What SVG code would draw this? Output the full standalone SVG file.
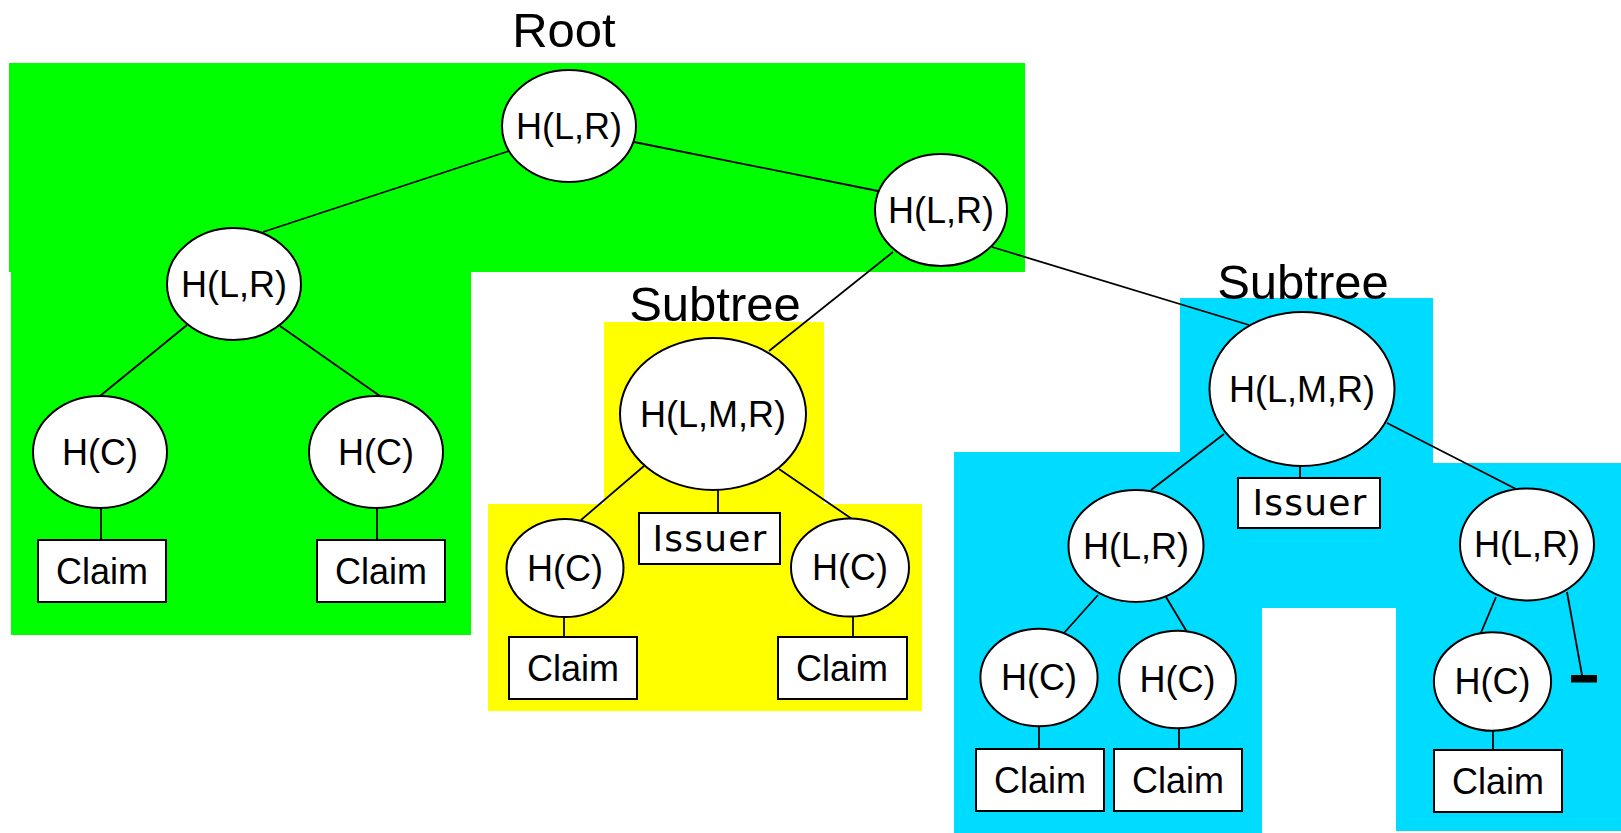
<svg xmlns="http://www.w3.org/2000/svg" width="1621" height="833" viewBox="0 0 1621 833">
<style>
.node{fill:#fff;stroke:#000;stroke-width:2}
.box{fill:#fff;stroke:#000;stroke-width:2}
.t{font-family:"Liberation Sans",Arial,sans-serif;font-size:36px;text-anchor:middle;fill:#000}
.iss{font-family:"DejaVu Sans",Verdana,sans-serif;font-size:36px;letter-spacing:1.2px;text-anchor:middle;fill:#000}
.title{font-family:"Liberation Sans",Arial,sans-serif;font-size:49px;text-anchor:middle;fill:#000}
.edge{stroke:#000;stroke-width:1.8;fill:none}
</style>
<rect width="1621" height="833" fill="#fff"/>
<g id="regions">
<rect x="9" y="63" width="1016" height="209" fill="#00ff00"/>
<rect x="11" y="271" width="460" height="364" fill="#00ff00"/>
<rect x="604" y="322" width="220" height="183" fill="#ffff00"/>
<rect x="488" y="504" width="434" height="207" fill="#ffff00"/>
<path d="M1180,298 H1433 V463 H1621 V831 H1396 V608 H1262 V833 H954 V452 H1180 Z" fill="#00dcff"/>
</g>
<g id="labels">
<text class="title" x="564" y="47" font-size="51">Root</text>
<text class="title" x="715" y="321">Subtree</text>
<text class="title" x="1303" y="299">Subtree</text>
</g>
<g id="connectors">
<line class="edge" x1="509" y1="151" x2="263" y2="232"/>
<line class="edge" x1="634" y1="142" x2="878" y2="191"/>
<line class="edge" x1="187" y1="325" x2="100" y2="396"/>
<line class="edge" x1="280" y1="326" x2="380" y2="396"/>
<line class="edge" x1="101" y1="507" x2="101" y2="540"/>
<line class="edge" x1="377" y1="507" x2="377" y2="540"/>
<line class="edge" x1="893" y1="252" x2="769" y2="351"/>
<line class="edge" x1="644" y1="466" x2="581" y2="520"/>
<line class="edge" x1="718" y1="490" x2="718" y2="513"/>
<line class="edge" x1="779" y1="469" x2="852" y2="519"/>
<line class="edge" x1="564" y1="617" x2="564" y2="637"/>
<line class="edge" x1="853" y1="616" x2="853" y2="637"/>
<line class="edge" x1="992" y1="247" x2="1249" y2="325"/>
<line class="edge" x1="1224" y1="434" x2="1151" y2="490"/>
<line class="edge" x1="1300" y1="465" x2="1300" y2="478"/>
<line class="edge" x1="1387" y1="423" x2="1516" y2="489"/>
<line class="edge" x1="1098" y1="595" x2="1064" y2="633"/>
<line class="edge" x1="1166" y1="597" x2="1187" y2="632"/>
<line class="edge" x1="1039" y1="726" x2="1039" y2="749"/>
<line class="edge" x1="1179" y1="728" x2="1179" y2="749"/>
<line class="edge" x1="1496" y1="597" x2="1480" y2="635"/>
<line class="edge" x1="1493" y1="730" x2="1493" y2="750"/>
<line class="edge" x1="1567" y1="592" x2="1582" y2="675"/>
<rect x="1571" y="675" width="26" height="7.5" fill="#000"/>
</g>
<g id="root"><ellipse class="node" cx="569" cy="126" rx="67" ry="56"/><text class="t" x="569" y="139">H(L,R)</text></g>
<g id="n-left"><ellipse class="node" cx="234" cy="284" rx="67" ry="56"/><text class="t" x="234" y="297">H(L,R)</text></g>
<g id="n-right"><ellipse class="node" cx="941" cy="210" rx="66" ry="56"/><text class="t" x="941" y="223">H(L,R)</text></g>
<g id="hc1"><ellipse class="node" cx="100" cy="452" rx="67" ry="56"/><text class="t" x="100" y="465">H(C)</text></g>
<g id="hc2"><ellipse class="node" cx="376" cy="452" rx="67" ry="56"/><text class="t" x="376" y="465">H(C)</text></g>
<g id="claim1"><rect class="box" x="38" y="540" width="128" height="62"/><text class="t" x="102" y="584">Claim</text></g>
<g id="claim2"><rect class="box" x="317" y="540" width="128" height="62"/><text class="t" x="381" y="584">Claim</text></g>
<g id="y-lmr"><ellipse class="node" cx="713" cy="414" rx="93" ry="76"/><text class="t" x="713" y="427">H(L,M,R)</text></g>
<g id="y-hc1"><ellipse class="node" cx="565" cy="568" rx="58.5" ry="49"/><text class="t" x="565" y="581">H(C)</text></g>
<g id="y-issuer"><rect class="box" x="639" y="513" width="141" height="51"/><text class="iss" x="710" y="551">Issuer</text></g>
<g id="y-hc2"><ellipse class="node" cx="850" cy="567.5" rx="59" ry="49"/><text class="t" x="850" y="580">H(C)</text></g>
<g id="y-claim1"><rect class="box" x="509" y="637" width="128" height="62"/><text class="t" x="573" y="681">Claim</text></g>
<g id="y-claim2"><rect class="box" x="778" y="637" width="129" height="62"/><text class="t" x="842" y="681">Claim</text></g>
<g id="c-lmr"><ellipse class="node" cx="1302" cy="389" rx="92.5" ry="77"/><text class="t" x="1302" y="402">H(L,M,R)</text></g>
<g id="c-lr1"><ellipse class="node" cx="1136" cy="546" rx="67.5" ry="56"/><text class="t" x="1136" y="559">H(L,R)</text></g>
<g id="c-issuer"><rect class="box" x="1238" y="478" width="142" height="50"/><text class="iss" x="1310" y="515">Issuer</text></g>
<g id="c-lr2"><ellipse class="node" cx="1527" cy="544.5" rx="67" ry="56"/><text class="t" x="1527" y="557">H(L,R)</text></g>
<g id="c-hc1"><ellipse class="node" cx="1039" cy="677.5" rx="58.6" ry="48.7"/><text class="t" x="1039" y="690">H(C)</text></g>
<g id="c-hc2"><ellipse class="node" cx="1177.5" cy="679.5" rx="58.4" ry="48.8"/><text class="t" x="1177.5" y="692">H(C)</text></g>
<g id="c-hc3"><ellipse class="node" cx="1492.5" cy="681.5" rx="58.6" ry="49.3"/><text class="t" x="1492.5" y="694">H(C)</text></g>
<g id="c-claim1"><rect class="box" x="976" y="749" width="128" height="62"/><text class="t" x="1040" y="793">Claim</text></g>
<g id="c-claim2"><rect class="box" x="1114" y="749" width="128" height="62"/><text class="t" x="1178" y="793">Claim</text></g>
<g id="c-claim3"><rect class="box" x="1434" y="750" width="128" height="62"/><text class="t" x="1498" y="794">Claim</text></g>
</svg>
